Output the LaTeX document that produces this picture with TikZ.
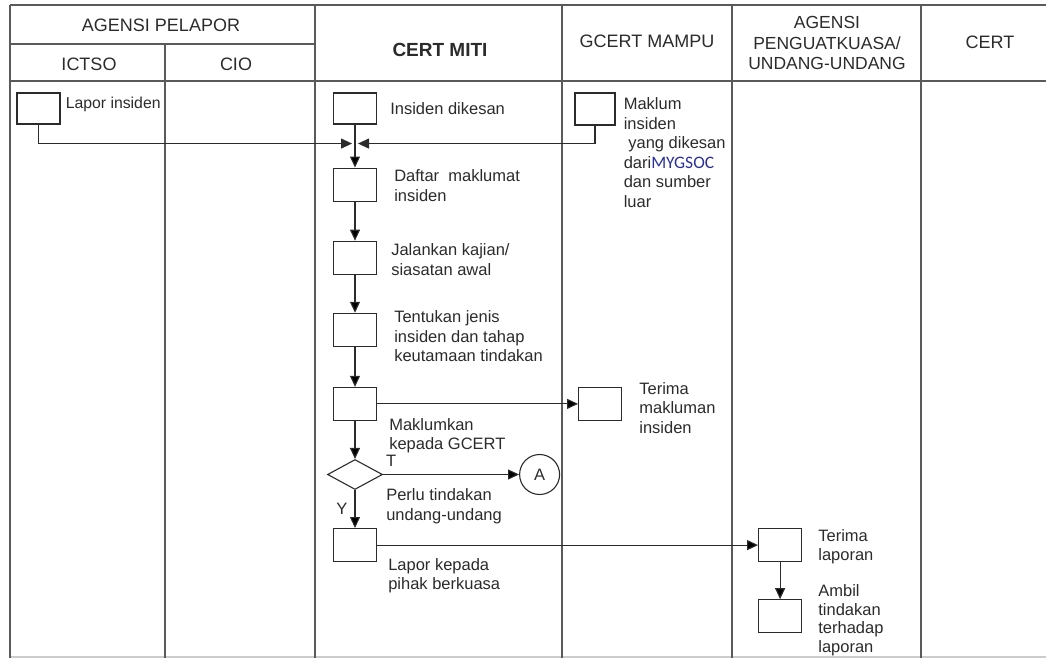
\documentclass[tikz,border=0pt]{standalone}
\usepackage{fontspec}
\setmainfont{Liberation Sans}
\newfontfamily\socfont{Carlito}
\usetikzlibrary{arrows.meta,shapes,calc,positioning}

\definecolor{lanegray}{HTML}{5A5A5A}
\definecolor{txtgray}{HTML}{2B2B2B}
\definecolor{socblue}{HTML}{2A2F9A}

\begin{document}
\begin{tikzpicture}[x=1pt,y=-1pt,>={Triangle[length=11pt,width=10pt]},node distance=39pt,
  box/.style={draw=txtgray, line width=1.1pt, minimum width=43pt, minimum height=33pt, inner sep=0pt},
  txt/.style={align=left, inner sep=0pt, text=txtgray, font=\fontsize{16.5}{19.5}\selectfont},
  head/.style={align=center, inner sep=0pt, text=txtgray, font=\fontsize{18}{21}\selectfont},
  lane/.style={draw=lanegray, line width=1.3pt}]

  \useasboundingbox (0,0) rectangle (1046,658);

  % swimlanes
  \draw[lane] (10,5) -- (1046,5);
  \draw[lane] (10,44) -- (315,44);
  \draw[lane] (10,81) -- (1046,81);
  \draw[lane, draw=black!20] (10,657) -- (1046,657);
  \foreach \x in {10,315,562,732,921} \draw[lane] (\x,5) -- (\x,658);
  \draw[lane] (165,44) -- (165,658);

  \node[head] (h1) at (161,25) {AGENSI PELAPOR};
  \node[head] (h2) at (89,64) {ICTSO};
  \node[head] (h3) at (236,64) {CIO};
  \node[head, font=\fontsize{19}{22}\selectfont\bfseries] (h4) at (440,50) {CERT MITI};
  \node[head] (h5) at (647,41) {GCERT MAMPU};
  \node[head, font=\fontsize{17.5}{20.5}\selectfont] (h6) at (827,43) {AGENSI\\PENGUATKUASA/\\UNDANG-UNDANG};
  \node[head] (h7) at (990,42) {CERT};

  % steps
  \node[box, minimum height=31pt] (1) at (38.5,108.5) {};
  \node[txt, font=\fontsize{15.8}{19}\selectfont, below right=4pt and 5pt of 1.north east] (1t) {Lapor insiden};

  \node[box, minimum height=31pt] (2) at (355,108.5) {};
  \node[txt, right=13pt of 2] (2t) {Insiden dikesan};
  \node[box, below=43pt of 2] (3) {};
  \node[txt, below right=2pt and 17pt of 3.north east] (3t) {Daftar\ \ maklumat\\insiden};
  \node[box, below=of 3] (4) {};
  \node[txt, below right=3pt and 14pt of 4.north east] (4t) {Jalankan kajian/\\siasatan awal};
  \node[box, below=38pt of 4] (5) {};
  \node[txt, below right=-2pt and 17pt of 5.north east] (5t) {Tentukan jenis\\insiden dan tahap\\keutamaan tindakan};
  \node[box, below=40pt of 5] (6) {};
  \node[txt, below right=-3pt and 12pt of 6.south east] (6t) {Maklumkan\\kepada GCERT};
  \node[draw=txtgray, diamond, minimum width=55pt, minimum height=30pt, inner sep=0pt, line width=1.1pt, below=38pt of 6] (7) {};
  \node[txt, below right=14pt and 3pt of 7.east] (7t) {Perlu tindakan\\undang-undang};
  \node[box, below=38pt of 7] (8) {};
  \node[txt, below right=-4pt and 11pt of 8.south east] (8t) {Lapor kepada\\pihak berkuasa};

  \node[box, minimum width=40pt, minimum height=32pt] (9) at (595,109) {};
  \node[txt, below right=5pt and 8pt of 9.north east] (9t) {Maklum\\insiden\\\ yang dikesan\\dari{\socfont\fontsize{17.5}{19.5}\selectfont\color{socblue}MYGSOC}\\dan sumber\\luar};

  \node[box, right=201pt of 6] (10) {};
  \node[txt, below right=-5pt and 17pt of 10.north east] (10t) {Terima\\makluman\\insiden};
  \node[draw=txtgray, circle, minimum size=40pt, inner sep=0pt, line width=1.1pt, right=136pt of 7, txt, text=txtgray] (11) {A};

  \node[box, right=381pt of 8] (12) {};
  \node[txt, below right=1pt and 16pt of 12.north east] (12t) {Terima\\laporan};
  \node[box, below=37pt of 12] (13) {};
  \node[txt, font=\fontsize{16.5}{18.8}\selectfont, below right=-15pt and 16pt of 13.north east] (13t) {Ambil\\tindakan\\terhadap\\laporan};

  \coordinate (ml) at ($(2.south)+(-3pt,-19pt)$);
  \coordinate (mr) at ($(2.south)+(3pt,-19pt)$);

  \draw[->, line width=1.1pt, txtgray] (1) |- (ml);
  \draw[->, line width=1.1pt, txtgray] (9) |- (mr);

  \path[->, line width=1.1pt, draw=txtgray, every node/.style={txt}]
    (2) edge (3)
    (3) edge (4)
    (4) edge (5)
    (5) edge (6)
    (6) edge (10)
    (6) edge (7)
    (7) edge node[at start, anchor=south west, xshift=2.5pt, yshift=7pt] {T} (11)
    (7) edge node[midway, left=7pt] {Y} (8)
    (8) edge (12)
    (12) edge (13);
\end{tikzpicture}
\end{document}
